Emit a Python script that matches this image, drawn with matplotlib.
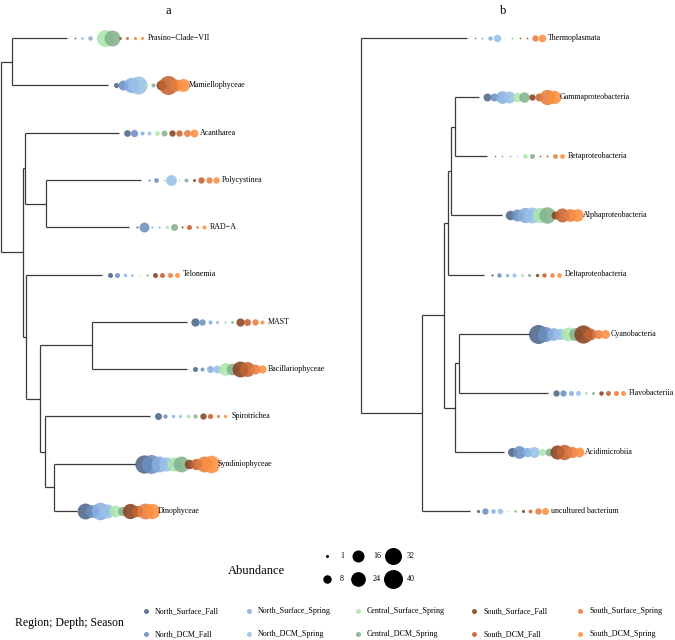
import matplotlib
matplotlib.use("Agg")
import matplotlib.pyplot as plt
import numpy as np

plt.rcParams['font.family'] = ['Liberation Serif', 'DejaVu Serif']

# sample groups, in the order the bubbles are drawn next to each tip
groups = ["North_Surface_Fall", "North_DCM_Fall", "North_Surface_Spring", "North_DCM_Spring",
          "Central_Surface_Spring", "Central_DCM_Spring", "South_Surface_Fall", "South_DCM_Fall",
          "South_Surface_Spring", "South_DCM_Spring"]
group_colors = ["#4d6689", "#6c8fc0", "#85aee0", "#98c0e8", "#ade6ad",
                "#83b38b", "#8a4220", "#c5632f", "#e87d40", "#fd8f3f"]

# trees with branch lengths
tree_a = ("((Prasino\u2212Clade\u2212VII:55,Mamiellophyceae:96):11,"
          "((Acantharea:94,(Polycystinea:95,RAD\u2212A:83):21):2,"
          "(Telonemia:76,((MAST:95,Bacillariophyceae:95):52,"
          "(Spirotrichea:105,(Syndiniophyceae:82,Dinophyceae:23):9):5):14):3):22);")
tree_b = ("(Thermoplasmata:106,(((((Gammaproteobacteria:24,Betaproteobacteria:32):4,"
          "Alphaproteobacteria:51):3,Deltaproteobacteria:36):4,"
          "((Cyanobacteria:71,Flavobacteriia:89):4,Acidimicrobiia:49):11):22,"
          "uncultured bacterium:48):61);")

taxa_a = ["Prasino\u2212Clade\u2212VII", "Mamiellophyceae", "Acantharea", "Polycystinea",
          "RAD\u2212A", "Telonemia", "MAST", "Bacillariophyceae", "Spirotrichea",
          "Syndiniophyceae", "Dinophyceae"]
abund_a = [
    [0.4, 0.5, 2.2, 0.3, 32, 28, 0.8, 1, 1, 1.2],
    [3, 11, 25, 36, 1.2, 1.8, 11, 40, 16, 19],
    [5, 6, 1.8, 1.8, 2.4, 4, 4.5, 4.5, 5.4, 7],
    [0.4, 2.4, 0.3, 13, 0.3, 1.8, 1, 4.5, 4.5, 4.5],
    [0.5, 11, 0.5, 0.6, 1.2, 5.4, 0.5, 2.8, 0.8, 1.8],
    [2.8, 2.8, 1.2, 1, 0.3, 0.6, 2.8, 2.8, 2.8, 2.8],
    [7.7, 4.5, 1.9, 1.2, 0.8, 0.9, 7.5, 5.4, 4.5, 1.8],
    [2.8, 1.8, 5.4, 7, 18, 15, 28, 25, 11, 7.5],
    [5.4, 2, 1.2, 1.2, 1.6, 1.9, 4.5, 3, 1.2, 1.2],
    [37, 40, 28, 22, 22, 28, 10, 14, 28, 34],
    [28, 18, 34, 22, 16, 9, 26, 14, 28, 26],
]

taxa_b = ["Thermoplasmata", "Gammaproteobacteria", "Betaproteobacteria", "Alphaproteobacteria",
          "Deltaproteobacteria", "Cyanobacteria", "Flavobacteriia", "Acidimicrobiia",
          "uncultured bacterium"]
abund_b = [
    [0.3, 0.3, 2.2, 6.4, 0.2, 0.3, 0.3, 0.4, 4.5, 6.4],
    [7, 7, 18, 16, 10, 12, 4.5, 7, 26, 20],
    [0.3, 0.3, 0.4, 0.2, 2.5, 2.8, 0.3, 0.5, 2.5, 2.5],
    [10, 16, 26, 28, 26, 30, 7, 22, 18, 18],
    [0.6, 2.2, 1.3, 1.9, 1.1, 1.1, 1.3, 2.2, 2.2, 2.5],
    [40, 26, 18, 14, 22, 18, 37, 16, 9, 9],
    [4.5, 4.5, 2.8, 2.8, 1, 1, 2.2, 2.8, 2.8, 2.8],
    [9, 18, 10, 13, 5.4, 7, 22, 26, 14, 11],
    [1.1, 4.5, 2.2, 3.6, 0.3, 0.7, 1.1, 1.6, 4.5, 5.4],
]

legend_sizes = [1, 8, 16, 24, 32, 40]

W, H = 675, 640
SIZE = 4.67      # points^2 per abundance unit
STEP = 7.5       # spacing of bubbles along x
LABEL_OFF = 81


def parse_newick(s):
    s = s.strip().rstrip(";")
    pos = 0

    def node():
        nonlocal pos
        children = []
        if s[pos] == "(":
            pos += 1
            children.append(node())
            while s[pos] == ",":
                pos += 1
                children.append(node())
            pos += 1
        start = pos
        while pos < len(s) and s[pos] not in ",():":
            pos += 1
        name = s[start:pos]
        length = 0.0
        if pos < len(s) and s[pos] == ":":
            pos += 1
            start = pos
            while pos < len(s) and s[pos] not in ",()":
                pos += 1
            length = float(s[start:pos])
        return {"name": name, "len": length, "children": children}

    return node()


def layout(tree):
    tips, segs = [], []

    def walk(n, x0):
        x = x0 + n["len"]
        if not n["children"]:
            y = len(tips)
            tips.append((n["name"], x, y))
        else:
            ys = [walk(c, x) for c in n["children"]]
            y = np.mean(ys)
            segs.append(((x, x), (min(ys), max(ys))))
        segs.append(((x0, x), (y, y)))
        return y

    walk(tree, 0.0)
    return tips, segs


def draw_panel(ax, tree_str, taxa, abund, xlim):
    tips, segs = layout(parse_newick(tree_str))
    n = len(tips)
    for xs, ys in segs:
        ax.plot(xs, ys, color="#3a3a3a", lw=0.9, solid_capstyle="butt")
    lookup = {t: row for t, row in zip(taxa, abund)}
    for name, x, y in tips:
        vals = lookup[name]
        for i, v in enumerate(vals):
            ax.scatter(x + STEP * (i + 1), y, s=SIZE * v, color=group_colors[i],
                       alpha=0.88, linewidths=0, clip_on=False, zorder=3)
        ax.text(x + LABEL_OFF, y, name, fontsize=5.7, va="center", ha="left")
    # y scale: first tip at 38 px, last at 511 px, axes from 25 to 525 px
    scale = (511 - 38) / (n - 1)
    ax.set_ylim((n - 1) + (525 - 511) / scale, -(38 - 25) / scale)
    ax.set_xlim(*xlim)
    ax.axis("off")


fig = plt.figure(figsize=(W / 100, H / 100), dpi=100)
ax_a = fig.add_axes([0, 1 - 525 / H, 335 / W, 500 / H])
ax_b = fig.add_axes([340 / W, 1 - 525 / H, 335 / W, 500 / H])
draw_panel(ax_a, tree_a, taxa_a, abund_a, (-1, 334))
draw_panel(ax_b, tree_b, taxa_b, abund_b, (-21, 314))
fig.text(168 / W, 1 - 11 / H, "a", fontsize=9, ha="center", va="center")
fig.text(503 / W, 1 - 11 / H, "b", fontsize=9, ha="center", va="center")

# legends drawn in a pixel-space overlay
leg = fig.add_axes([0, 0, 1, 1])
leg.set_xlim(0, W)
leg.set_ylim(H, 0)
leg.axis("off")

leg.text(228, 571, "Abundance", fontsize=9, va="center", ha="left")
col_x = [327, 358, 393]
lab_x = [340, 373, 407]
row_y = [556, 579]
for k, v in enumerate(legend_sizes):
    c, r = divmod(k, 2)
    leg.scatter(col_x[c], row_y[r], s=SIZE * v, color="black", linewidths=0)
    leg.text(lab_x[c], row_y[r], str(v), fontsize=5.8, va="center", ha="left")

leg.text(15, 623, "Region; Depth; Season", fontsize=8.5, va="center", ha="left")
g_x = [146, 249, 358, 474, 580]
g_y = [611, 634]
for k, g in enumerate(groups):
    c, r = divmod(k, 2)
    leg.scatter(g_x[c], g_y[r], s=13, color=group_colors[k], alpha=0.88, linewidths=0)
    leg.text(g_x[c] + 9, g_y[r], g, fontsize=5.8, va="center", ha="left")

fig.savefig("out.png", dpi=100)
